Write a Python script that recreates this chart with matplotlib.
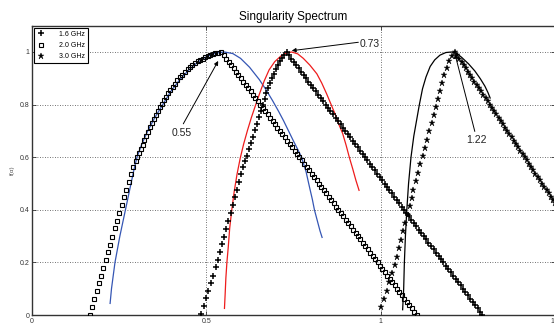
import matplotlib
matplotlib.use("Agg")
import matplotlib.pyplot as plt

plt.rcParams["font.family"] = ["Liberation Sans", "DejaVu Sans"]

# ---- data (alpha, f(alpha)) ----
# shared f values for the straight right-hand branches
f_desc = [1.0000, 0.9875, 0.9750, 0.9625, 0.9500, 0.9375, 0.9250, 0.9125, 0.9000, 0.8875,
          0.8750, 0.8625, 0.8500, 0.8375, 0.8250, 0.8125, 0.8000, 0.7875, 0.7750, 0.7625,
          0.7500, 0.7375, 0.7250, 0.7125, 0.7000, 0.6875, 0.6750, 0.6625, 0.6500, 0.6375,
          0.6250, 0.6125, 0.6000, 0.5875, 0.5750, 0.5625, 0.5500, 0.5375, 0.5250, 0.5125,
          0.5000, 0.4875, 0.4750, 0.4625, 0.4500, 0.4375, 0.4250, 0.4125, 0.4000, 0.3875,
          0.3750, 0.3625, 0.3500, 0.3375, 0.3250, 0.3125, 0.3000, 0.2875, 0.2750, 0.2625,
          0.2500, 0.2375, 0.2250, 0.2125, 0.2000, 0.1875, 0.1750, 0.1625, 0.1500, 0.1375,
          0.1250, 0.1125, 0.1000, 0.0875, 0.0750, 0.0625, 0.0500, 0.0375, 0.0250, 0.0125,
          0.0000]

# 1.6 GHz (plus markers)
g16_left_a = [0.486, 0.492, 0.498, 0.505, 0.512, 0.519, 0.527, 0.533, 0.539, 0.545,
              0.551, 0.557, 0.563, 0.570, 0.576, 0.582, 0.587, 0.593, 0.598,
              0.604, 0.610, 0.616, 0.622, 0.628, 0.634, 0.640, 0.646, 0.652, 0.657,
              0.662, 0.667, 0.672, 0.677, 0.682, 0.688, 0.694, 0.700, 0.706, 0.712,
              0.718, 0.724]
g16_left_f = [0.003, 0.034, 0.065, 0.092, 0.121, 0.150, 0.181, 0.211, 0.240, 0.269,
              0.298, 0.328, 0.357, 0.388, 0.419, 0.448, 0.477, 0.507, 0.538,
              0.562, 0.585, 0.606, 0.630, 0.655, 0.678, 0.702, 0.727, 0.752, 0.777,
              0.800, 0.822, 0.844, 0.863, 0.882, 0.900, 0.917, 0.934, 0.950, 0.964,
              0.977, 0.988]
g16_right_a = [0.730, 0.737, 0.744, 0.751, 0.758, 0.765, 0.772, 0.779, 0.786, 0.793,
               0.800, 0.807, 0.814, 0.821, 0.828, 0.835, 0.842, 0.849, 0.856, 0.863,
               0.871, 0.878, 0.885, 0.892, 0.899, 0.906, 0.913, 0.920, 0.927, 0.934,
               0.941, 0.948, 0.955, 0.962, 0.969, 0.976, 0.983, 0.990, 0.997, 1.004,
               1.011, 1.018, 1.025, 1.032, 1.039, 1.046, 1.053, 1.060, 1.067, 1.074,
               1.081, 1.088, 1.095, 1.102, 1.109, 1.116, 1.123, 1.130, 1.137, 1.144,
               1.152, 1.159, 1.166, 1.173, 1.180, 1.187, 1.194, 1.201, 1.208, 1.215,
               1.222, 1.229, 1.236, 1.243, 1.250, 1.257, 1.264, 1.271, 1.278, 1.285,
               1.292]

# 2.0 GHz (square markers)
g20_left_a = [0.166, 0.172, 0.179, 0.185, 0.192, 0.198, 0.205, 0.211, 0.217, 0.224,
              0.230, 0.237, 0.244, 0.250, 0.258, 0.264, 0.270, 0.277, 0.284, 0.290,
              0.297, 0.302, 0.307, 0.312, 0.317, 0.322, 0.327, 0.332, 0.338, 0.344,
              0.350, 0.356, 0.361, 0.367, 0.373, 0.379, 0.385, 0.391, 0.396, 0.403,
              0.410, 0.417, 0.424, 0.431, 0.438, 0.446, 0.453, 0.460, 0.468, 0.475,
              0.482, 0.490, 0.497, 0.504, 0.510, 0.518, 0.526, 0.534]
g20_left_f = [0.000, 0.032, 0.062, 0.091, 0.120, 0.149, 0.180, 0.209, 0.238, 0.268,
              0.297, 0.329, 0.358, 0.388, 0.420, 0.449, 0.477, 0.507, 0.535, 0.563,
              0.584, 0.600, 0.616, 0.632, 0.648, 0.664, 0.680, 0.696, 0.715, 0.730,
              0.746, 0.762, 0.775, 0.790, 0.803, 0.817, 0.830, 0.844, 0.855, 0.868,
              0.880, 0.893, 0.905, 0.914, 0.924, 0.934, 0.943, 0.950, 0.957, 0.964,
              0.970, 0.975, 0.980, 0.985, 0.988, 0.992, 0.995, 0.998]
g20_right_a = [0.543, 0.550, 0.557, 0.564, 0.571, 0.578, 0.585, 0.592, 0.599, 0.606,
               0.613, 0.620, 0.627, 0.634, 0.641, 0.648, 0.655, 0.662, 0.669, 0.676,
               0.683, 0.690, 0.697, 0.704, 0.711, 0.718, 0.725, 0.732, 0.739, 0.746,
               0.753, 0.760, 0.767, 0.774, 0.781, 0.788, 0.795, 0.802, 0.809, 0.816,
               0.823, 0.830, 0.837, 0.844, 0.851, 0.858, 0.865, 0.872, 0.879, 0.886,
               0.893, 0.900, 0.907, 0.914, 0.921, 0.928, 0.935, 0.942, 0.949, 0.956,
               0.963, 0.970, 0.977, 0.984, 0.991, 0.998, 1.005, 1.012, 1.019, 1.026,
               1.033, 1.040, 1.047, 1.054, 1.061, 1.068, 1.075, 1.082, 1.089, 1.096,
               1.103]

# 3.0 GHz (star markers)
g30_left_a = [1.001, 1.010, 1.017, 1.025, 1.032, 1.040, 1.046, 1.052, 1.057, 1.063,
              1.071, 1.077, 1.084, 1.089, 1.094, 1.100, 1.108, 1.114, 1.121, 1.127,
              1.133, 1.140, 1.146, 1.152, 1.158, 1.164, 1.170, 1.176, 1.182, 1.189,
              1.196, 1.204]
g30_left_f = [0.032, 0.061, 0.092, 0.127, 0.158, 0.190, 0.221, 0.253, 0.285, 0.319,
              0.350, 0.382, 0.414, 0.443, 0.474, 0.509, 0.540, 0.573, 0.605, 0.636,
              0.667, 0.698, 0.729, 0.760, 0.790, 0.822, 0.852, 0.882, 0.911, 0.940,
              0.965, 0.986]
g30_right_a = [1.213, 1.219, 1.226, 1.232, 1.238, 1.244, 1.251, 1.257, 1.263, 1.269,
               1.276, 1.282, 1.288, 1.294, 1.301, 1.307, 1.313, 1.319, 1.326, 1.332,
               1.338, 1.344, 1.351, 1.357, 1.363, 1.369, 1.376, 1.382, 1.388, 1.394,
               1.401, 1.407, 1.413, 1.419, 1.426, 1.432, 1.438, 1.444, 1.451, 1.457,
               1.463, 1.469, 1.476, 1.482, 1.488, 1.494, 1.501, 1.507, 1.513, 1.519,
               1.526]

# fitted curves
blue_a = [0.224, 0.228, 0.233, 0.238, 0.245, 0.252, 0.260, 0.268, 0.276, 0.284,
          0.292, 0.301, 0.315, 0.332, 0.352, 0.375, 0.398, 0.424, 0.450, 0.474,
          0.500, 0.527, 0.552, 0.576, 0.598, 0.624, 0.652, 0.671, 0.690, 0.707,
          0.721, 0.735, 0.749, 0.762, 0.773, 0.786, 0.797, 0.804, 0.810, 0.818,
          0.826, 0.832]
blue_f = [0.044, 0.100, 0.150, 0.200, 0.250, 0.300, 0.350, 0.400, 0.450, 0.500,
          0.550, 0.600, 0.650, 0.700, 0.750, 0.800, 0.850, 0.895, 0.932, 0.960,
          0.982, 0.996, 1.000, 0.994, 0.976, 0.942, 0.895, 0.857, 0.815, 0.775,
          0.740, 0.702, 0.664, 0.630, 0.600, 0.545, 0.480, 0.440, 0.400, 0.360,
          0.320, 0.295]
red_a = [0.552, 0.554, 0.556, 0.559, 0.563, 0.567, 0.573, 0.580, 0.588, 0.597,
         0.607, 0.618, 0.629, 0.641, 0.653, 0.666, 0.680, 0.696, 0.714, 0.731,
         0.745, 0.762, 0.778, 0.797, 0.817, 0.831, 0.845, 0.857, 0.869, 0.880,
         0.891, 0.901, 0.910, 0.920, 0.929, 0.938]
red_f = [0.025, 0.080, 0.140, 0.200, 0.260, 0.330, 0.400, 0.470, 0.535, 0.595,
         0.650, 0.702, 0.750, 0.797, 0.843, 0.890, 0.932, 0.963, 0.985, 0.997,
         1.000, 0.993, 0.976, 0.950, 0.917, 0.882, 0.841, 0.803, 0.765, 0.725,
         0.690, 0.645, 0.600, 0.555, 0.512, 0.474]
black_a = [1.063, 1.066, 1.068, 1.071, 1.075, 1.080, 1.087, 1.095, 1.103, 1.111,
           1.120, 1.130, 1.142, 1.155, 1.170, 1.187, 1.203, 1.218, 1.232, 1.252,
           1.270, 1.286, 1.299, 1.308, 1.314]
black_f = [0.020, 0.100, 0.200, 0.300, 0.400, 0.500, 0.600, 0.680, 0.740, 0.800,
           0.860, 0.905, 0.945, 0.970, 0.988, 0.998, 1.000, 0.995, 0.980, 0.955,
           0.928, 0.898, 0.870, 0.845, 0.825]

x_ticks = [0, 0.5, 1, 1.5]
x_labels = ["0", "0.5", "1", "1.5"]
y_ticks = [0, 0.2, 0.4, 0.6, 0.8, 1.0]
y_labels = ["0", "0.2", "0.4", "0.6", "0.8", "1"]

# ---- figure ----
fig = plt.figure(figsize=(5.54, 3.29), dpi=100)
ax = fig.add_axes([32 / 554, 14 / 329, 523 / 554, 289.3 / 329])

ax.plot(blue_a, blue_f, color="#3556b4", lw=0.9, zorder=3)
ax.plot(red_a, red_f, color="#ee1c1c", lw=0.9, zorder=3)
ax.plot(black_a, black_f, color="black", lw=0.9, zorder=3)

ax.plot(g16_left_a + g16_right_a, g16_left_f + f_desc, linestyle="none",
        marker="+", ms=3.8, mew=1.1, color="black", label="1.6 GHz", zorder=4)
ax.plot(g20_left_a + g20_right_a, g20_left_f + f_desc, linestyle="none",
        marker="s", ms=3.0, mew=0.8, mfc="none", mec="black", label="2.0 GHz", zorder=4)
ax.plot(g30_left_a + g30_right_a, g30_left_f + f_desc[:len(g30_right_a)],
        linestyle="none", marker="*", ms=5.0, mew=0.3, color="black",
        label="3.0 GHz", zorder=4)

arrow = dict(arrowstyle="-|>", lw=0.7, color="black", mutation_scale=6,
             shrinkA=0, shrinkB=0)
ax.annotate("", xy=(0.534, 0.966), xytext=(0.434, 0.727), arrowprops=arrow, zorder=5)
ax.text(0.429, 0.692, "0.55", fontsize=7.5, ha="center", va="center", color="#222")
ax.annotate("", xy=(0.745, 1.005), xytext=(0.936, 1.037), arrowprops=arrow, zorder=5)
ax.text(0.969, 1.031, "0.73", fontsize=7.5, ha="center", va="center", color="#222")
ax.annotate("", xy=(1.213, 0.993), xytext=(1.270, 0.698), arrowprops=arrow, zorder=5)
ax.text(1.275, 0.667, "1.22", fontsize=7.5, ha="center", va="center", color="#222")

ax.set_xlim(0, 1.5)
ax.set_ylim(0, 1.1)
ax.set_xticks(x_ticks)
ax.set_xticklabels(x_labels)
ax.set_yticks(y_ticks)
ax.set_yticklabels(y_labels)
ax.tick_params(direction="in", top=True, right=True, length=3, width=0.6,
               labelsize=5, pad=2, colors="#333")
ax.grid(True, linestyle=(0, (1, 2)), color="#444", lw=0.6, zorder=0)
for s in ax.spines.values():
    s.set_linewidth(1.0)
    s.set_color("#333")

ax.set_title("Singularity Spectrum", fontsize=8.5, pad=4)
ax.set_ylabel("f(\u03b1)", fontsize=4.5, labelpad=3, color="#555")

leg = ax.legend(loc="upper left", fontsize=5, frameon=True, fancybox=False,
                borderaxespad=0.35, handlelength=1.2, handletextpad=2.0,
                labelspacing=0.6, borderpad=0.4, numpoints=1)
leg.get_frame().set_edgecolor("black")
leg.get_frame().set_linewidth(0.8)
leg.get_frame().set_alpha(1)

fig.savefig("out.png", dpi=100)
